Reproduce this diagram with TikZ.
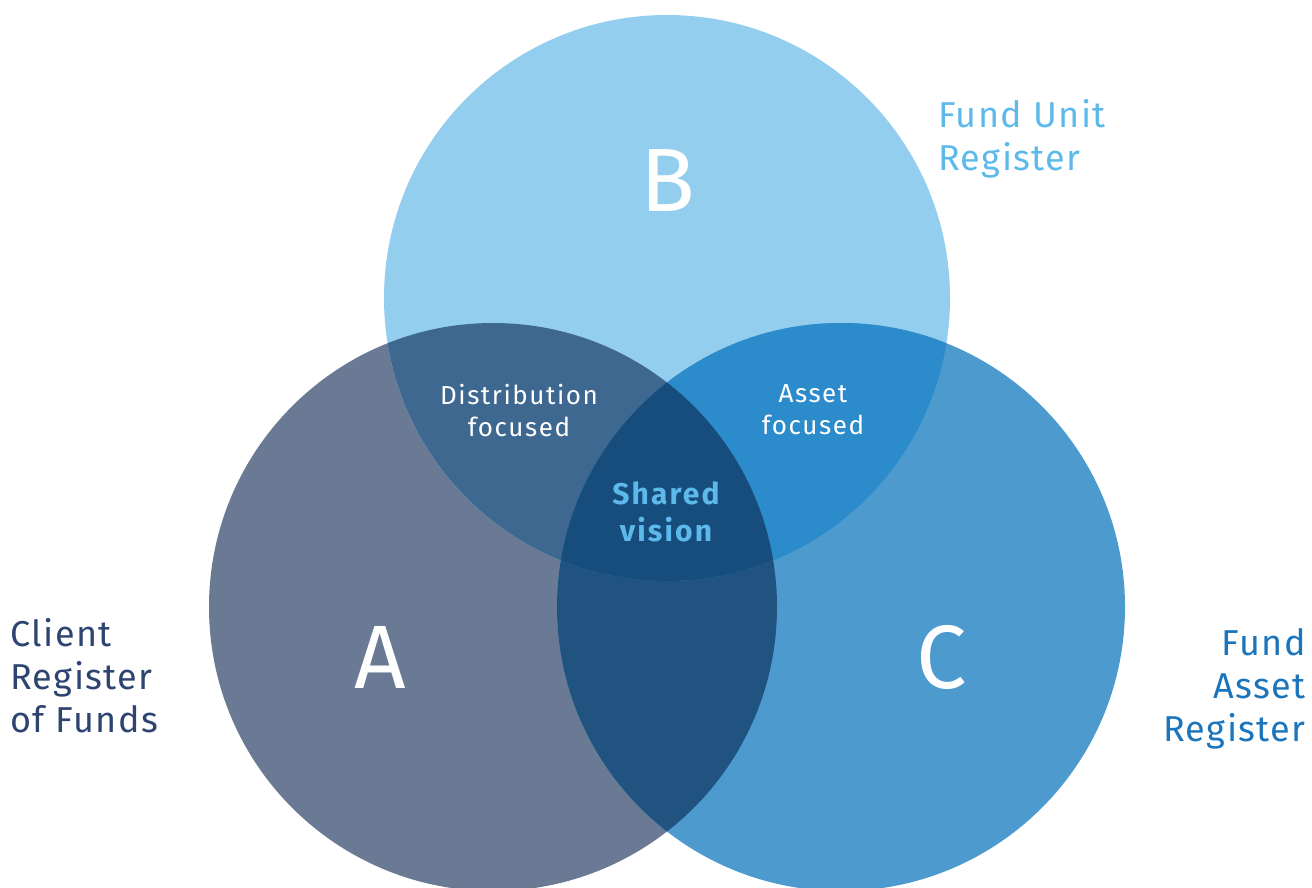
\documentclass[tikz,border=0pt]{standalone}
\usepackage{fontspec}
\setmainfont{Fira Sans}
\newfontfamily\zonefont[LetterSpace=6]{Fira Sans}
\newfontfamily\sidefont[LetterSpace=4]{Fira Sans}
\newfontfamily\sharedfont[LetterSpace=7]{Fira Sans}
\usepackage{tikz}
\usetikzlibrary{positioning}

\definecolor{onlyA}{HTML}{6A7A94}
\definecolor{onlyB}{HTML}{93CEEF}
\definecolor{onlyC}{HTML}{4D9ACE}
\definecolor{bothAB}{HTML}{3E6890}
\definecolor{bothBC}{HTML}{2C8BCB}
\definecolor{bothAC}{HTML}{215380}
\definecolor{allABC}{HTML}{174D7D}
\definecolor{txtA}{HTML}{2E4470}
\definecolor{txtB}{HTML}{5DB9EA}
\definecolor{txtC}{HTML}{1A75BC}

\tikzset{
  letter/.style={text=white, font=\fontsize{90}{90}\selectfont},
  zone/.style={text=white, align=center, font=\zonefont\fontsize{26}{32}\selectfont},
  side/.style={font=\sidefont\fontsize{36}{43}\selectfont, inner sep=0pt},
}

\begin{document}
\begin{tikzpicture}[x=1pt,y=-1pt]
\useasboundingbox (0,0) rectangle (1312,887);
\coordinate (cA) at (493,607);
\coordinate (cB) at (667,298);
\coordinate (cC) at (841,607);
% the three sets
\fill[onlyA] (cA) circle (284pt);
\fill[onlyB] (cB) circle (283pt);
\fill[onlyC] (cC) circle (284pt);
% overlaps
\begin{scope}
\clip (cA) circle (284pt);
\fill[bothAB] (cB) circle (283pt);
\fill[bothAC] (cC) circle (284pt);
\end{scope}
\begin{scope}
\clip (cB) circle (283pt);
\fill[bothBC] (cC) circle (284pt);
\end{scope}
\begin{scope}
\clip (cA) circle (284pt);
\clip (cB) circle (283pt);
\fill[allABC] (cC) circle (284pt);
\end{scope}
% letters
\node[letter] (lA) at (380,657) {A};
\node[letter] (lB) at (668,180) {B};
\node[letter] (lC) at (942,657) {C};
% overlap labels
\node[zone] (dist) at (519,411) {Distribution\\focused};
\node[zone] (asset) at (813,410) {Asset\\focused};
\node[zone, text=txtB, font=\sharedfont\bfseries\fontsize{30}{37}\selectfont] (shared) at (666,512) {Shared\\vision};
% register names
\node[side, text=txtB, align=left, anchor=west] (unit) at (938,139) {Fund Unit\\Register};
\node[side, text=txtA, align=left, anchor=west] (client) at (10,676) {Client\\Register\\of Funds};
\node[side, text=txtC, align=right, anchor=east] (fundasset) at (1306,689) {Fund\\Asset\\Register};
\end{tikzpicture}
\end{document}
